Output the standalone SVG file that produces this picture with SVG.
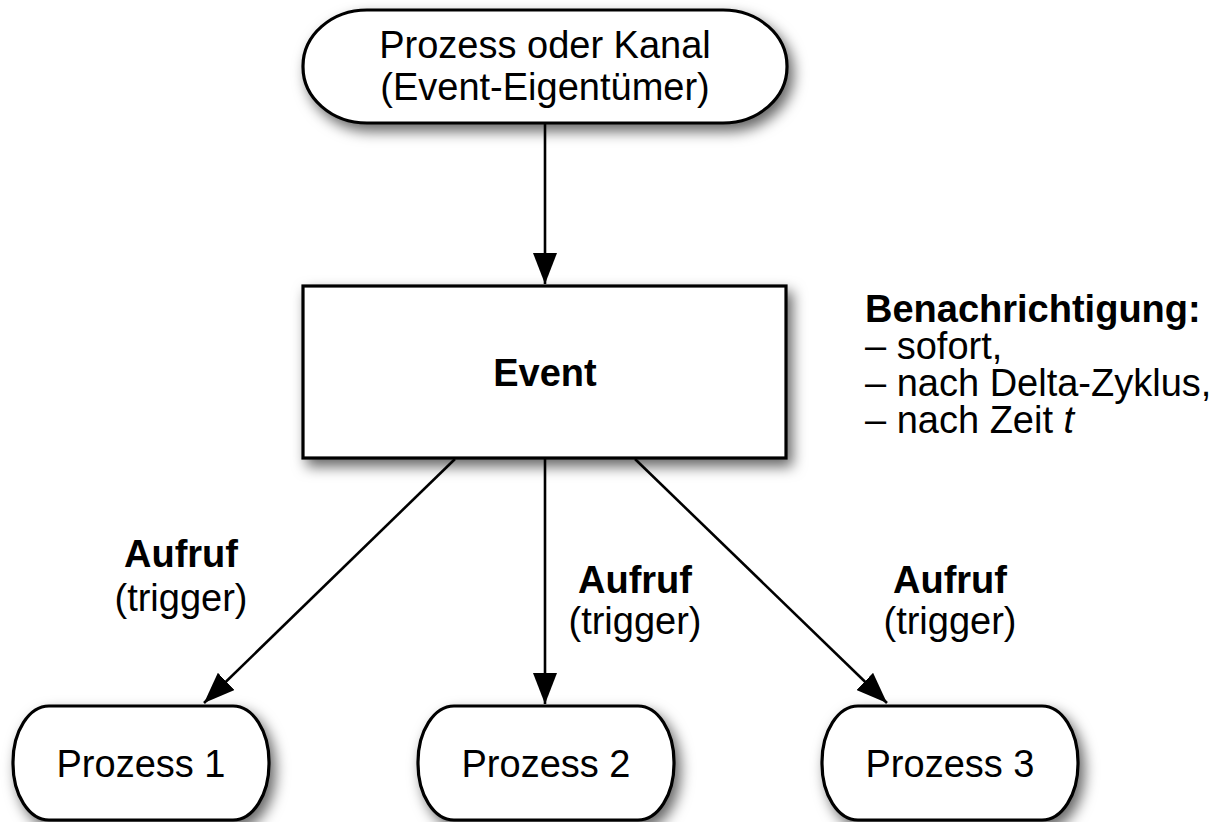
<svg xmlns="http://www.w3.org/2000/svg" width="1216" height="822" viewBox="0 0 1216 822">
  <style>
    .shape { fill: #ffffff; stroke: #000000; stroke-width: 3.2; filter: url(#shadow); }
    .label { font-family: "Liberation Sans", Arial, sans-serif; font-size: 38px; fill: #000000; }
    .bold { font-weight: bold; }
    .mid { text-anchor: middle; }
    .edge { stroke: #000000; stroke-width: 2.6; fill: none; marker-end: url(#head); }
  </style>
  <defs>
    <filter id="shadow" x="-20%" y="-30%" width="150%" height="180%">
      <feDropShadow dx="5" dy="7" stdDeviation="7" flood-color="#000000" flood-opacity="0.6"/>
    </filter>
    <marker id="head" markerWidth="31" markerHeight="24" refX="31" refY="12" orient="auto" markerUnits="userSpaceOnUse" viewBox="0 0 31 24">
      <path d="M0,0 L31,12 L0,24 Z" fill="#000000"/>
    </marker>
  </defs>
  <rect width="1216" height="822" fill="#ffffff"/>

  <!-- connectors -->
  <g id="connectors">
    <line class="edge" x1="545" y1="123" x2="545" y2="284"/>
    <line class="edge" x1="455" y1="459" x2="204" y2="703"/>
    <line class="edge" x1="545" y1="459" x2="545" y2="704"/>
    <line class="edge" x1="635" y1="459" x2="887" y2="703"/>
  </g>

  <!-- owner process or channel -->
  <g id="owner">
    <rect class="shape" x="303" y="10" width="484" height="113" rx="64" ry="56"/>
    <text class="label mid" x="545" y="58">Prozess oder Kanal</text>
    <text class="label mid" x="545" y="100">(Event-Eigentümer)</text>
  </g>

  <!-- event -->
  <g id="event">
    <rect class="shape" x="303" y="286" width="483" height="172"/>
    <text class="label bold mid" x="545" y="386">Event</text>
  </g>

  <!-- notification note -->
  <g id="notification">
    <text class="label" x="865" y="322"><tspan class="bold">Benachrichtigung:</tspan><tspan x="865" dy="37">– sofort,</tspan><tspan x="865" dy="37">– nach Delta-Zyklus,</tspan><tspan x="865" dy="37">– nach Zeit <tspan font-style="italic">t</tspan></tspan></text>
  </g>

  <!-- trigger labels -->
  <g id="trigger1">
    <text class="label bold mid" x="181" y="567">Aufruf</text>
    <text class="label mid" x="181" y="611">(trigger)</text>
  </g>
  <g id="trigger2">
    <text class="label bold mid" x="635" y="593">Aufruf</text>
    <text class="label mid" x="635" y="634">(trigger)</text>
  </g>
  <g id="trigger3">
    <text class="label bold mid" x="950" y="593">Aufruf</text>
    <text class="label mid" x="950" y="634">(trigger)</text>
  </g>

  <!-- processes -->
  <g id="process1">
    <rect class="shape" x="13" y="706" width="256" height="114" rx="36" ry="56"/>
    <text class="label mid" x="141" y="777">Prozess 1</text>
  </g>
  <g id="process2">
    <rect class="shape" x="418" y="706" width="256" height="114" rx="36" ry="56"/>
    <text class="label mid" x="546" y="777">Prozess 2</text>
  </g>
  <g id="process3">
    <rect class="shape" x="822" y="706" width="256" height="114" rx="36" ry="56"/>
    <text class="label mid" x="950" y="777">Prozess 3</text>
  </g>
</svg>
